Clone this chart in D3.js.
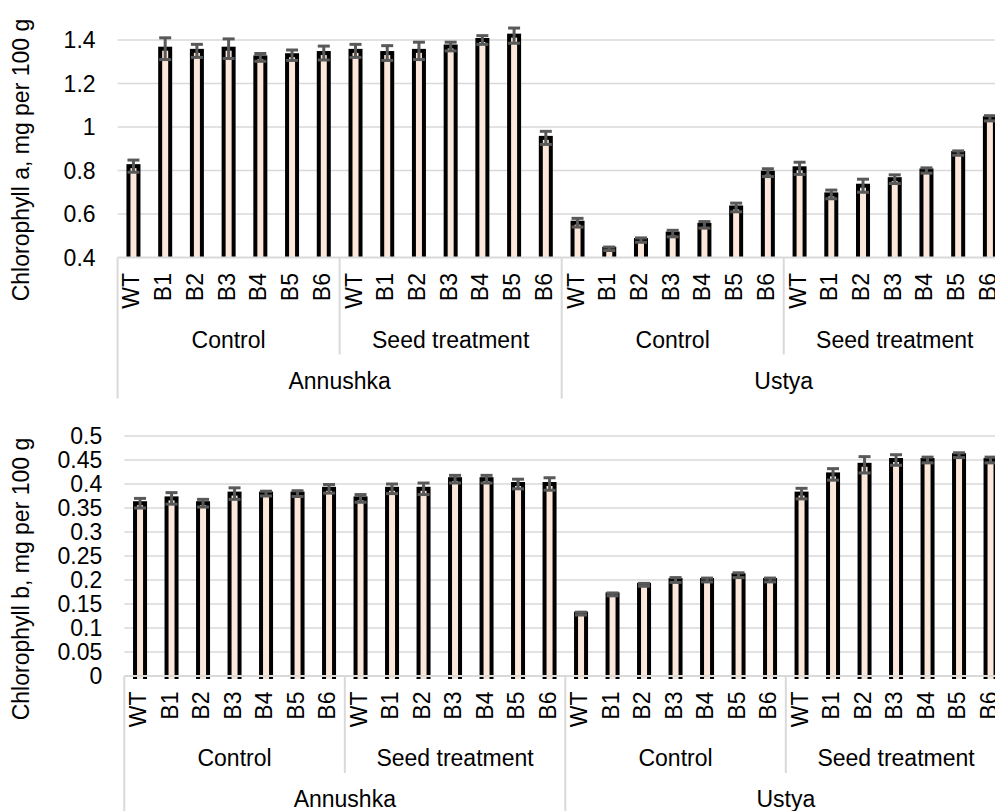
<!DOCTYPE html>
<html>
<head>
<meta charset="utf-8">
<script src="https://cdn.jsdelivr.net/npm/d3@7"></script>
<style>
  html, body { margin: 0; padding: 0; background: #fff; }
  svg { display: block; font-family: "Liberation Sans", Arial, sans-serif; }
</style>
</head>
<body>
<svg id="chart" width="995" height="811"></svg>
<script>
const categories = ['WT', 'B1', 'B2', 'B3', 'B4', 'B5', 'B6'];
const treatments = ['Control', 'Seed treatment'];
const cultivars = ['Annushka', 'Ustya'];

// Annushka control, Annushka seed, Ustya control, Ustya seed
const chlA = [0.82, 1.36, 1.35, 1.36, 1.32, 1.33, 1.34,
              1.35, 1.34, 1.35, 1.37, 1.40, 1.42, 0.95,
              0.56, 0.44, 0.48, 0.51, 0.55, 0.63, 0.79,
              0.81, 0.69, 0.73, 0.76, 0.80, 0.88, 1.04];
const chlAErr = [0.028, 0.05, 0.03, 0.045, 0.018, 0.024, 0.032,
                 0.03, 0.034, 0.04, 0.02, 0.02, 0.035, 0.03,
                 0.02, 0.008, 0.01, 0.015, 0.015, 0.02, 0.018,
                 0.028, 0.02, 0.03, 0.02, 0.012, 0.01, 0.012];
const chlB = [0.36, 0.37, 0.36, 0.38, 0.38, 0.38, 0.39,
              0.37, 0.39, 0.39, 0.41, 0.41, 0.40, 0.40,
              0.13, 0.17, 0.19, 0.20, 0.20, 0.21, 0.20,
              0.38, 0.42, 0.44, 0.45, 0.45, 0.46, 0.45];
const chlBErr = [0.01, 0.012, 0.008, 0.012, 0.005, 0.006, 0.009,
                 0.008, 0.01, 0.012, 0.008, 0.008, 0.01, 0.013,
                 0.003, 0.003, 0.003, 0.005, 0.004, 0.005, 0.004,
                 0.011, 0.012, 0.017, 0.011, 0.006, 0.005, 0.006];

const chlATicks = [0.4, 0.6, 0.8, 1, 1.2, 1.4];
const chlBTicks = [0, 0.05, 0.1, 0.15, 0.2, 0.25, 0.3, 0.35, 0.4, 0.45, 0.5];

const keys = [];
cultivars.forEach((c) => treatments.forEach((t) => categories.forEach((k) => keys.push(c + '|' + t + '|' + k))));

const svg = d3.select('#chart');
const grey = '#d9d9d9';
const fontSize = 23;

function panel(opt) {
  const x = d3.scaleBand().domain(keys).range([opt.left, opt.left + keys.length * opt.band]);
  const y = d3.scaleLinear().domain(opt.domain).range([opt.bottom, opt.top]);
  const g = svg.append('g');

  // gridlines
  g.selectAll('line.grid')
    .data(opt.ticks.slice(1))
    .enter()
    .append('line')
    .attr('x1', opt.left).attr('x2', 995)
    .attr('y1', (d) => y(d)).attr('y2', (d) => y(d))
    .attr('stroke', grey).attr('stroke-width', 1.5);

  // y tick labels
  g.selectAll('text.ytick')
    .data(opt.ticks)
    .enter()
    .append('text')
    .attr('x', opt.left - 22)
    .attr('y', (d) => y(d) + 8)
    .attr('text-anchor', 'end')
    .attr('font-size', fontSize)
    .attr('fill', '#000')
    .text((d) => String(d));

  // y title
  g.append('text')
    .attr('transform', `translate(28.5,${opt.titleY}) rotate(-90)`)
    .attr('text-anchor', 'middle')
    .attr('font-size', fontSize)
    .text(opt.title);

  const clipId = 'clip' + opt.id;
  svg.append('clipPath').attr('id', clipId)
    .append('rect')
    .attr('x', 0).attr('y', 0).attr('width', 995).attr('height', opt.clipBottom);

  const rows = keys.map((k, i) => ({ key: k, v: opt.values[i], e: opt.errors[i] }));
  const bw = 10;

  g.append('g').attr('clip-path', `url(#${clipId})`)
    .selectAll('rect')
    .data(rows)
    .enter()
    .append('rect')
    .attr('x', (d) => x(d.key) + x.bandwidth() / 2 - bw / 2)
    .attr('width', bw)
    .attr('y', (d) => y(d.v))
    .attr('height', (d) => y(opt.domain[0]) - y(d.v) + 6)
    .attr('fill', '#fce8da')
    .attr('stroke', '#000')
    .attr('stroke-width', 4);

  // error bars
  const eb = g.append('g').attr('stroke', '#595959').attr('stroke-width', 3);
  rows.forEach((d) => {
    const cx = x(d.key) + x.bandwidth() / 2;
    eb.append('line').attr('x1', cx).attr('x2', cx).attr('y1', y(d.v - d.e)).attr('y2', y(d.v + d.e));
    [d.v - d.e, d.v + d.e].forEach((v) => {
      eb.append('line').attr('x1', cx - 6).attr('x2', cx + 6).attr('y1', y(v)).attr('y2', y(v));
    });
  });

  // category axis line
  g.append('line')
    .attr('x1', opt.left).attr('x2', 995)
    .attr('y1', opt.bottom).attr('y2', opt.bottom)
    .attr('stroke', grey).attr('stroke-width', 2);

  // level 0 labels
  g.selectAll('text.cat')
    .data(keys)
    .enter()
    .append('text')
    .attr('transform', (d) => `translate(${x(d) + x.bandwidth() / 2 + 6},${opt.bottom + 15.5}) rotate(-90)`)
    .attr('text-anchor', 'end')
    .attr('font-size', fontSize)
    .text((d) => d.split('|')[2]);

  // level 1 (treatment) labels and separators
  const n = categories.length;
  const groups1 = [];
  cultivars.forEach((c) => treatments.forEach((t) => groups1.push({ c, t })));
  groups1.forEach((d, i) => {
    const x0 = x(keys[i * n]);
    const x1 = x0 + n * x.bandwidth();
    g.append('text')
      .attr('x', (x0 + x1) / 2).attr('y', opt.bottom + 90)
      .attr('text-anchor', 'middle')
      .attr('font-size', fontSize)
      .text(d.t);
    if (i % 2 === 1) {
      g.append('line')
        .attr('x1', x0).attr('x2', x0)
        .attr('y1', opt.bottom).attr('y2', opt.bottom + 97)
        .attr('stroke', grey).attr('stroke-width', 2);
    }
  });

  // level 2 (cultivar) labels and separators
  cultivars.forEach((c, i) => {
    const x0 = x(keys[i * 2 * n]);
    const x1 = x0 + 2 * n * x.bandwidth();
    g.append('text')
      .attr('x', (x0 + x1) / 2).attr('y', opt.bottom + 131)
      .attr('text-anchor', 'middle')
      .attr('font-size', fontSize)
      .text(c);
    g.append('line')
      .attr('x1', x0).attr('x2', x0)
      .attr('y1', opt.bottom).attr('y2', opt.bottom + 141)
      .attr('stroke', grey).attr('stroke-width', 2);
  });
}

panel({
  id: 'a', values: chlA, errors: chlAErr, ticks: chlATicks,
  domain: [0.4, 1.4], left: 117.6, band: 31.72, top: 40, bottom: 257.5,
  clipBottom: 257.5, title: 'Chlorophyll a, mg per 100 g', titleY: 160
});

panel({
  id: 'b', values: chlB, errors: chlBErr, ticks: chlBTicks,
  domain: [0, 0.5], left: 124.3, band: 31.5, top: 436, bottom: 676,
  clipBottom: 679, title: 'Chlorophyll b, mg per 100 g', titleY: 579
});
</script>
</body>
</html>
